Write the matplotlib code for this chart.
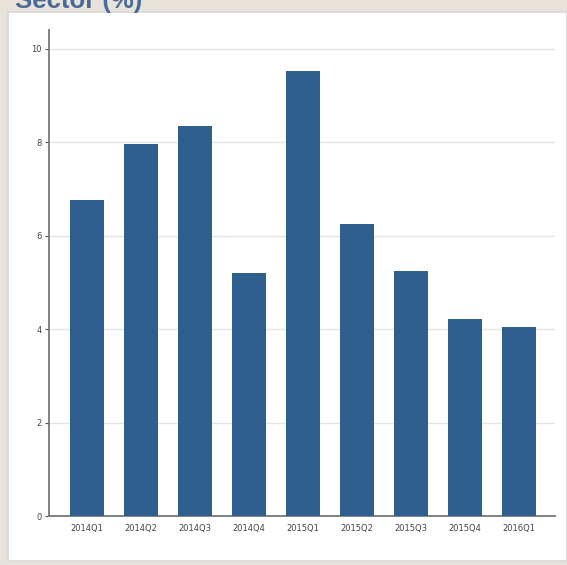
"""Bar chart: quarterly sector growth (%), 2014Q1-2016Q1."""
import matplotlib
matplotlib.use("Agg")
import matplotlib.pyplot as plt

quarters = ["2014Q1", "2014Q2", "2014Q3", "2014Q4", "2015Q1",
            "2015Q2", "2015Q3", "2015Q4", "2016Q1"]
values = [6.77, 7.97, 8.34, 5.21, 9.52, 6.25, 5.25, 4.21, 4.05]
yticks = [0, 2, 4, 6, 8, 10]

BAR = "#2e5f8f"
BEIGE = "#e7e3da"
TITLE = "#4a6a9a"
W, H = 567, 565

fig = plt.figure(figsize=(5.67, 5.65), dpi=100)
fig.patch.set_facecolor(BEIGE)

# white panel with a thin light border (behind the chart)
bg = fig.add_axes([8 / W, 4 / H, 1 - 8 / W, 1 - 16 / H], zorder=-1)
bg.set_xticks([]); bg.set_yticks([])
bg.set_facecolor("white")
for s in bg.spines.values():
    s.set_color("#d8d8d8"); s.set_linewidth(1.2)

fig.text(15 / W, 1 - 8 / H, "Sector (%)", fontsize=18.5, fontweight="bold",
         color=TITLE, ha="left", va="baseline", family="Liberation Sans")

ax = fig.add_axes([49 / W, 49 / H, (555 - 49) / W, (516 - 30) / H])
ax.set_facecolor("none")
x = range(len(quarters))
ax.bar(x, values, width=0.62, color=BAR, zorder=3)

ax.set_xlim(-0.7, len(quarters) - 1 + 0.67)
ax.set_ylim(0, 10.4)
ax.set_yticks(yticks)
ax.set_xticks(list(x))
ax.set_xticklabels(quarters)
ax.grid(axis="y", color="#e4e4e4", lw=1.0, zorder=0)

for s in ["top", "right"]:
    ax.spines[s].set_visible(False)
ax.spines["left"].set_color("#777777")
ax.spines["left"].set_linewidth(1.3)
ax.spines["bottom"].set_color("#777777")
ax.spines["bottom"].set_linewidth(1.3)
ax.tick_params(axis="y", length=3, width=0.8, color="#555555", labelsize=6,
               labelcolor="#444444", pad=2)
ax.tick_params(axis="x", length=0, labelsize=6, labelcolor="#444444", pad=6)

fig.savefig("out.png", dpi=100, facecolor=BEIGE)
